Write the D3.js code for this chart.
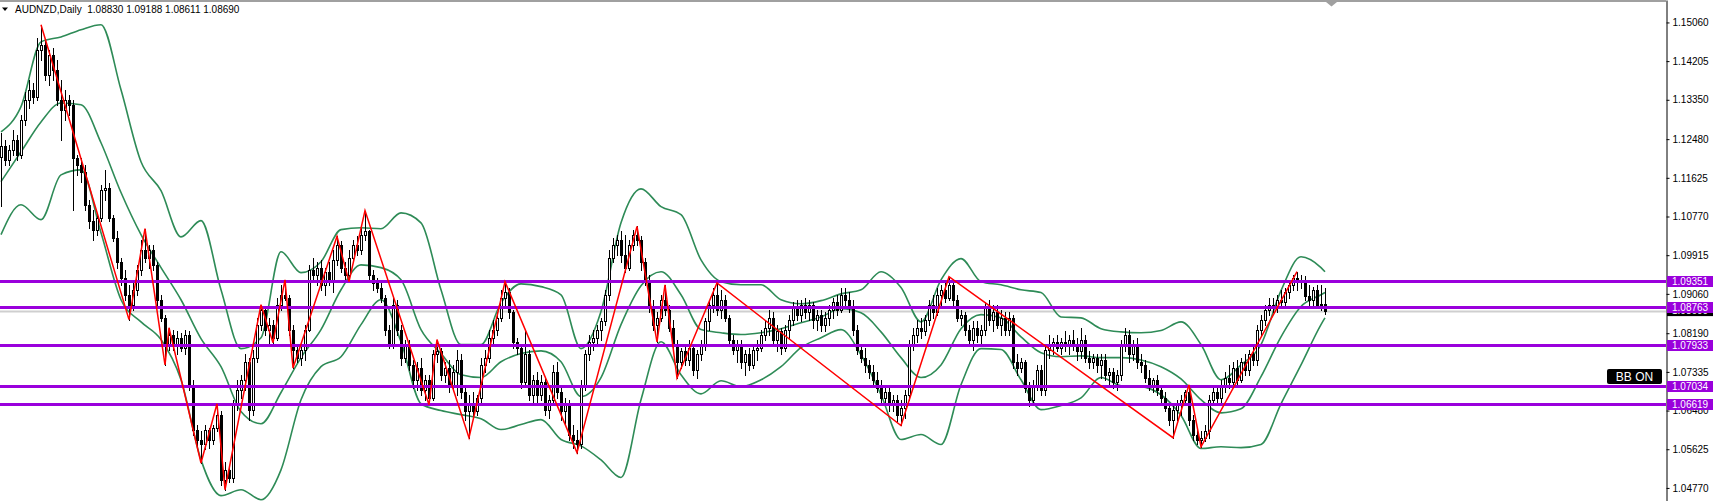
<!DOCTYPE html>
<html><head><meta charset="utf-8">
<script src="https://cdn.jsdelivr.net/npm/d3@7"></script>
<style>
html,body{margin:0;padding:0;background:#fff;overflow:hidden}
svg{display:block;font-family:"Liberation Sans",Arial,sans-serif}
</style>
</head><body>
<svg id="chart" width="1717" height="501"></svg>
<script>
// ---------------- data ----------------
const symbolTitle = "AUDNZD,Daily";
const lastOHLC = [1.08830, 1.09188, 1.08611, 1.08690];

const opens = [
1.1209,1.1232,1.1202,1.1224,1.1247,1.1213,1.1291,1.1335,1.1357,1.1342,
1.1445,1.1457,1.1390,1.1434,1.1401,1.1335,1.1313,1.1335,1.1324,1.1206,
1.1191,1.1176,1.1103,1.1066,1.1048,1.1074,1.1136,1.1140,1.1074,1.1030,
1.0977,1.0941,1.0904,1.0882,1.0915,1.0959,1.1004,1.0986,1.1004,1.0970,
1.0893,1.0853,1.0794,1.0816,1.0794,1.0809,1.0787,1.0816,1.0705,1.0606,
1.0584,1.0573,1.0606,1.0584,1.0610,1.0639,1.0495,1.0517,1.0499,1.0661,
1.0694,1.0716,1.0756,1.0650,1.0765,1.0838,1.0871,1.0827,1.0838,1.0809,
1.0882,1.0904,1.0897,1.0827,1.0783,1.0765,1.0783,1.0827,1.0959,1.0948,
1.0963,1.0926,1.0955,1.0937,1.0981,1.1015,1.0963,1.0948,1.0986,1.1015,
1.1004,1.1037,1.1044,1.0948,1.0930,1.0919,1.0897,1.0827,1.0794,1.0882,
1.0827,1.0765,1.0794,1.0749,1.0716,1.0742,1.0694,1.0716,1.0676,1.0772,
1.0779,1.0727,1.0742,1.0705,1.0734,1.0760,1.0690,1.0646,1.0661,1.0646,
1.0676,1.0749,1.0765,1.0809,1.0827,1.0853,1.0897,1.0911,1.0867,1.0800,
1.0787,1.0712,1.0772,1.0683,1.0716,1.0683,1.0712,1.0650,1.0672,1.0734,
1.0690,1.0646,1.0661,1.0595,1.0584,1.0573,1.0705,1.0772,1.0800,1.0809,
1.0827,1.0845,1.0904,1.0986,1.1015,1.1026,1.0993,1.0963,1.1015,1.1037,
1.1026,1.0977,1.0937,1.0875,1.0838,1.0853,1.0893,1.0871,1.0831,1.0794,
1.0756,1.0779,1.0760,1.0787,1.0738,1.0772,1.0794,1.0845,1.0882,1.0904,
1.0871,1.0893,1.0853,1.0805,1.0783,1.0794,1.0756,1.0772,1.0749,1.0783,
1.0787,1.0816,1.0831,1.0853,1.0805,1.0823,1.0787,1.0827,1.0849,1.0875,
1.0860,1.0882,1.0867,1.0882,1.0849,1.0860,1.0838,1.0853,1.0871,1.0889,
1.0871,1.0904,1.0893,1.0875,1.0827,1.0783,1.0765,1.0749,1.0734,1.0716,
1.0698,1.0676,1.0690,1.0661,1.0672,1.0639,1.0654,1.0683,1.0794,1.0816,
1.0831,1.0823,1.0849,1.0882,1.0867,1.0904,1.0915,1.0897,1.0926,1.0893,
1.0853,1.0860,1.0827,1.0805,1.0831,1.0816,1.0827,1.0875,1.0849,1.0867,
1.0838,1.0853,1.0827,1.0853,1.0756,1.0742,1.0756,1.0698,1.0672,1.0705,
1.0738,1.0694,1.0783,1.0794,1.0800,1.0787,1.0800,1.0794,1.0805,1.0794,
1.0779,1.0805,1.0765,1.0756,1.0765,1.0749,1.0760,1.0727,1.0734,1.0712,
1.0727,1.0794,1.0816,1.0772,1.0794,1.0756,1.0749,1.0720,1.0705,1.0716,
1.0694,1.0676,1.0654,1.0628,1.0650,1.0661,1.0672,1.0690,1.0628,1.0595,
1.0584,1.0588,1.0602,1.0672,1.0690,1.0676,1.0705,1.0720,1.0712,1.0742,
1.0716,1.0756,1.0738,1.0772,1.0760,1.0827,1.0849,1.0871,1.0882,1.0875,
1.0893,1.0889,1.0911,1.0926,1.0941,1.0933,1.0937,1.0902,1.0893,1.0915,
1.0882,1.08830];

const highs = [
1.1262,1.1247,1.1236,1.1269,1.1258,1.1302,1.1353,1.1379,1.1372,1.1472,
1.1501,1.1468,1.1445,1.1450,1.1423,1.1379,1.1357,1.1346,1.1335,1.1213,
1.1206,1.1191,1.1114,1.1092,1.1081,1.1147,1.1180,1.1151,1.1081,1.1044,
1.0986,1.0959,1.0926,1.0930,1.0970,1.1026,1.1050,1.1015,1.1015,1.0977,
1.0904,1.0860,1.0831,1.0827,1.0823,1.0820,1.0827,1.0823,1.0716,1.0617,
1.0602,1.0617,1.0610,1.0617,1.0663,1.0646,1.0535,1.0528,1.0672,1.0716,
1.0727,1.0772,1.0765,1.0783,1.0853,1.0882,1.0875,1.0853,1.0849,1.0897,
1.0926,1.0937,1.0904,1.0838,1.0794,1.0794,1.0838,1.0970,1.0986,1.0977,
1.0981,1.0963,1.0977,1.1004,1.1033,1.1022,1.0977,1.1004,1.1026,1.1033,
1.1052,1.1090,1.1048,1.0959,1.0941,1.0937,1.0904,1.0838,1.0897,1.0893,
1.0838,1.0805,1.0805,1.0760,1.0756,1.0765,1.0727,1.0727,1.0783,1.0805,
1.0787,1.0756,1.0760,1.0749,1.0783,1.0772,1.0705,1.0683,1.0690,1.0683,
1.0765,1.0783,1.0827,1.0849,1.0867,1.0915,1.0933,1.0919,1.0871,1.0809,
1.0794,1.0827,1.0783,1.0727,1.0734,1.0727,1.0720,1.0683,1.0749,1.0756,
1.0705,1.0676,1.0672,1.0617,1.0606,1.0716,1.0783,1.0816,1.0827,1.0838,
1.0853,1.0915,1.1004,1.1030,1.1037,1.1044,1.1037,1.1026,1.1048,1.1055,
1.1035,1.0986,1.0948,1.0893,1.0867,1.0904,1.0926,1.0882,1.0849,1.0805,
1.0787,1.0794,1.0805,1.0794,1.0783,1.0805,1.0853,1.0893,1.0919,1.0930,
1.0915,1.0904,1.0860,1.0816,1.0805,1.0805,1.0783,1.0787,1.0794,1.0805,
1.0827,1.0845,1.0871,1.0867,1.0838,1.0831,1.0838,1.0860,1.0889,1.0893,
1.0893,1.0897,1.0893,1.0889,1.0871,1.0871,1.0867,1.0882,1.0897,1.0904,
1.0919,1.0919,1.0911,1.0893,1.0838,1.0794,1.0787,1.0760,1.0749,1.0734,
1.0716,1.0705,1.0698,1.0683,1.0683,1.0672,1.0694,1.0805,1.0831,1.0849,
1.0853,1.0860,1.0893,1.0904,1.0919,1.0926,1.0937,1.0944,1.0933,1.0904,
1.0871,1.0867,1.0838,1.0845,1.0845,1.0838,1.0889,1.0893,1.0882,1.0882,
1.0871,1.0867,1.0867,1.0860,1.0772,1.0765,1.0760,1.0712,1.0716,1.0749,
1.0749,1.0794,1.0816,1.0809,1.0816,1.0809,1.0823,1.0816,1.0827,1.0809,
1.0831,1.0816,1.0779,1.0772,1.0772,1.0772,1.0772,1.0742,1.0742,1.0738,
1.0805,1.0831,1.0827,1.0805,1.0809,1.0772,1.0760,1.0738,1.0720,1.0727,
1.0705,1.0690,1.0661,1.0661,1.0672,1.0683,1.0694,1.0705,1.0639,1.0610,
1.0602,1.0617,1.0683,1.0705,1.0698,1.0716,1.0734,1.0749,1.0756,1.0760,
1.0765,1.0772,1.0783,1.0794,1.0838,1.0860,1.0882,1.0897,1.0897,1.0904,
1.0915,1.0919,1.0933,1.0948,1.0955,1.0948,1.0946,1.0926,1.0922,1.0926,
1.0926,1.09188];

const lows = [
1.1100,1.1191,1.1191,1.1213,1.1202,1.1206,1.1280,1.1317,1.1328,1.1335,
1.1423,1.1379,1.1368,1.1379,1.1324,1.1247,1.1291,1.1302,1.1092,1.1169,
1.1154,1.1092,1.1052,1.1026,1.1037,1.1066,1.1114,1.1066,1.1022,1.0963,
1.0926,1.0893,1.0849,1.0871,1.0904,1.0948,1.0977,1.0963,1.0959,1.0882,
1.0845,1.0749,1.0783,1.0783,1.0772,1.0779,1.0772,1.0694,1.0595,1.0562,
1.0532,1.0562,1.0566,1.0573,1.0602,1.0484,1.0473,1.0491,1.0491,1.0650,
1.0676,1.0694,1.0628,1.0639,1.0756,1.0827,1.0816,1.0798,1.0798,1.0805,
1.0871,1.0893,1.0816,1.0742,1.0756,1.0749,1.0760,1.0823,1.0933,1.0926,
1.0915,1.0904,1.0926,1.0911,1.0970,1.0955,1.0937,1.0933,1.0977,1.0993,
1.0995,1.1026,1.0937,1.0915,1.0911,1.0889,1.0816,1.0787,1.0787,1.0816,
1.0749,1.0756,1.0738,1.0698,1.0694,1.0683,1.0672,1.0661,1.0672,1.0756,
1.0716,1.0712,1.0690,1.0694,1.0683,1.0676,1.0628,1.0588,1.0632,1.0639,
1.0668,1.0734,1.0756,1.0794,1.0816,1.0845,1.0882,1.0853,1.0787,1.0772,
1.0698,1.0705,1.0672,1.0661,1.0668,1.0672,1.0639,1.0632,1.0661,1.0676,
1.0628,1.0617,1.0584,1.0566,1.0555,1.0566,1.0694,1.0760,1.0783,1.0794,
1.0805,1.0838,1.0893,1.0977,1.0993,1.0977,1.0955,1.0959,1.1004,1.1015,
1.0959,1.0926,1.0867,1.0827,1.0800,1.0845,1.0860,1.0823,1.0783,1.0720,
1.0742,1.0749,1.0749,1.0727,1.0720,1.0760,1.0783,1.0827,1.0867,1.0860,
1.0853,1.0845,1.0794,1.0772,1.0756,1.0742,1.0727,1.0738,1.0742,1.0760,
1.0779,1.0805,1.0816,1.0794,1.0779,1.0772,1.0779,1.0809,1.0838,1.0849,
1.0845,1.0853,1.0849,1.0831,1.0827,1.0823,1.0823,1.0838,1.0853,1.0860,
1.0867,1.0882,1.0867,1.0816,1.0772,1.0756,1.0734,1.0720,1.0705,1.0690,
1.0668,1.0661,1.0646,1.0646,1.0624,1.0615,1.0632,1.0672,1.0783,1.0800,
1.0809,1.0816,1.0838,1.0853,1.0860,1.0882,1.0889,1.0893,1.0882,1.0845,
1.0838,1.0816,1.0794,1.0783,1.0800,1.0794,1.0816,1.0838,1.0823,1.0831,
1.0816,1.0816,1.0816,1.0742,1.0727,1.0734,1.0690,1.0657,1.0661,1.0694,
1.0683,1.0683,1.0765,1.0772,1.0779,1.0772,1.0779,1.0772,1.0783,1.0760,
1.0765,1.0756,1.0742,1.0742,1.0734,1.0720,1.0716,1.0705,1.0698,1.0694,
1.0716,1.0779,1.0756,1.0760,1.0742,1.0734,1.0712,1.0694,1.0690,1.0683,
1.0668,1.0646,1.0617,1.0588,1.0628,1.0639,1.0661,1.0617,1.0584,1.0573,
1.0568,1.0580,1.0588,1.0661,1.0661,1.0668,1.0690,1.0698,1.0705,1.0705,
1.0712,1.0727,1.0727,1.0749,1.0749,1.0816,1.0838,1.0860,1.0867,1.0867,
1.0875,1.0882,1.0897,1.0915,1.0915,1.0919,1.0893,1.0882,1.0882,1.0875,
1.0871,1.08611];

const closes = [
1.1232,1.1202,1.1224,1.1247,1.1213,1.1291,1.1335,1.1357,1.1342,1.1445,
1.1457,1.1390,1.1434,1.1401,1.1335,1.1313,1.1335,1.1324,1.1206,1.1191,
1.1176,1.1103,1.1066,1.1048,1.1074,1.1136,1.1140,1.1074,1.1030,1.0977,
1.0941,1.0904,1.0882,1.0915,1.0959,1.1004,1.0986,1.1004,1.0970,1.0893,
1.0853,1.0794,1.0816,1.0794,1.0809,1.0787,1.0816,1.0705,1.0606,1.0584,
1.0573,1.0606,1.0584,1.0610,1.0639,1.0495,1.0517,1.0499,1.0661,1.0694,
1.0716,1.0756,1.0650,1.0765,1.0838,1.0871,1.0827,1.0838,1.0809,1.0882,
1.0904,1.0897,1.0827,1.0783,1.0765,1.0783,1.0827,1.0959,1.0948,1.0963,
1.0926,1.0955,1.0937,1.0981,1.1015,1.0963,1.0948,1.0986,1.1015,1.1004,
1.1037,1.1044,1.0948,1.0930,1.0919,1.0897,1.0827,1.0794,1.0882,1.0827,
1.0765,1.0794,1.0749,1.0716,1.0742,1.0694,1.0716,1.0676,1.0772,1.0779,
1.0727,1.0742,1.0705,1.0734,1.0760,1.0690,1.0646,1.0661,1.0646,1.0676,
1.0749,1.0765,1.0809,1.0827,1.0853,1.0897,1.0911,1.0867,1.0800,1.0787,
1.0712,1.0772,1.0683,1.0716,1.0683,1.0712,1.0650,1.0672,1.0734,1.0690,
1.0646,1.0661,1.0595,1.0584,1.0573,1.0705,1.0772,1.0800,1.0809,1.0827,
1.0845,1.0904,1.0986,1.1015,1.1026,1.0993,1.0963,1.1015,1.1037,1.1026,
1.0977,1.0937,1.0875,1.0838,1.0853,1.0893,1.0871,1.0831,1.0794,1.0756,
1.0779,1.0760,1.0787,1.0738,1.0772,1.0794,1.0845,1.0882,1.0904,1.0871,
1.0893,1.0853,1.0805,1.0783,1.0794,1.0756,1.0772,1.0749,1.0783,1.0787,
1.0816,1.0831,1.0853,1.0805,1.0823,1.0787,1.0827,1.0849,1.0875,1.0860,
1.0882,1.0867,1.0882,1.0849,1.0860,1.0838,1.0853,1.0871,1.0889,1.0871,
1.0904,1.0893,1.0875,1.0827,1.0783,1.0765,1.0749,1.0734,1.0716,1.0698,
1.0676,1.0690,1.0661,1.0672,1.0639,1.0654,1.0683,1.0794,1.0816,1.0831,
1.0823,1.0849,1.0882,1.0867,1.0904,1.0915,1.0897,1.0926,1.0893,1.0853,
1.0860,1.0827,1.0805,1.0831,1.0816,1.0827,1.0875,1.0849,1.0867,1.0838,
1.0853,1.0827,1.0853,1.0756,1.0742,1.0756,1.0698,1.0672,1.0705,1.0738,
1.0694,1.0783,1.0794,1.0800,1.0787,1.0800,1.0794,1.0805,1.0794,1.0779,
1.0805,1.0765,1.0756,1.0765,1.0749,1.0760,1.0727,1.0734,1.0712,1.0727,
1.0794,1.0816,1.0772,1.0794,1.0756,1.0749,1.0720,1.0705,1.0716,1.0694,
1.0676,1.0654,1.0628,1.0650,1.0661,1.0672,1.0690,1.0628,1.0595,1.0584,
1.0588,1.0602,1.0672,1.0690,1.0676,1.0705,1.0720,1.0712,1.0742,1.0716,
1.0756,1.0738,1.0772,1.0760,1.0827,1.0849,1.0871,1.0882,1.0875,1.0893,
1.0889,1.0911,1.0926,1.0941,1.0933,1.0937,1.0902,1.0893,1.0915,1.0882,
1.0883,1.08690];

// Bollinger bands, one value every 5th bar (and the last bar)
const bbSampleStep = 5;
const bbUpper = [1.1264,1.1320,1.1463,1.1474,1.1490,1.1501,1.1357,1.1198,1.1134,1.1032,
1.1068,1.0915,1.0785,1.0809,1.0999,1.0953,1.0977,1.1048,1.1052,1.1050,
1.1085,1.1063,1.0915,1.0794,1.0794,1.0886,1.0928,1.0922,1.0904,1.0785,
1.0867,1.1063,1.1138,1.1099,1.1081,1.0981,1.0933,1.0926,1.0926,1.0893,
1.0884,1.0891,1.0906,1.0915,1.0955,1.0920,1.0844,1.0937,1.0984,1.0933,
1.0926,1.0915,1.0909,1.0855,1.0853,1.0829,1.0822,1.0820,1.0825,1.0844,
1.0794,1.0716,1.0749,1.0794,1.0913,1.0988,1.0964,1.0955];
const bbMiddle = [1.1154,1.1220,1.1286,1.1328,1.1324,1.1240,1.1130,1.1037,1.0964,1.0893,
1.0807,1.0745,1.0646,1.0619,1.0688,1.0765,1.0827,1.0915,1.0970,1.0964,
1.0937,1.0827,1.0774,1.0727,1.0721,1.0756,1.0774,1.0780,1.0756,1.0679,
1.0721,1.0838,1.0924,1.0955,1.0904,1.0827,1.0820,1.0816,1.0820,1.0829,
1.0842,1.0855,1.0873,1.0864,1.0822,1.0765,1.0721,1.0749,1.0829,1.0860,
1.0853,1.0811,1.0776,1.0767,1.0769,1.0765,1.0765,1.0760,1.0745,1.0718,
1.0672,1.0643,1.0652,1.0723,1.0811,1.0878,1.0904,1.0909];
const bbLower = [1.1037,1.1103,1.1070,1.1169,1.1180,1.1041,1.0893,1.0844,1.0805,1.0716,
1.0539,1.0460,1.0473,1.0451,1.0517,1.0672,1.0745,1.0767,1.0838,1.0893,
1.0800,1.0663,1.0648,1.0639,1.0630,1.0606,1.0617,1.0628,1.0584,1.0570,
1.0539,1.0500,1.0672,1.0800,1.0727,1.0685,1.0714,1.0701,1.0716,1.0745,
1.0787,1.0809,1.0827,1.0771,1.0683,1.0584,1.0595,1.0573,1.0705,1.0785,
1.0783,1.0716,1.0650,1.0659,1.0676,1.0721,1.0703,1.0701,1.0683,1.0637,
1.0564,1.0568,1.0566,1.0573,1.0663,1.0749,1.0838,1.0853];

// ZigZag pivots (bar number, price)
const zigzagBars = [10,32,36,41,42,50,54,56,65,68,71,73,84,87,91,107,109,117,126,144,159,164,166,169,179,225,237,293,297,300,324];
const zigzagPrices = [1.1501,1.0849,1.1050,1.0749,1.0831,1.0532,1.0663,1.0473,1.0882,1.0798,1.0937,1.0742,1.1033,1.0933,1.1090,1.0661,1.0805,1.0588,1.0933,1.0555,1.1055,1.0800,1.0926,1.0720,1.0930,1.0615,1.0944,1.0588,1.0705,1.0568,1.0955];

// Horizontal levels, bid price, axis ticks
const levelPrices = [1.09351, 1.08763, 1.07933, 1.07034, 1.06619];
const bidPrice = 1.08690;
const axisTicks = [1.15060,1.14205,1.13350,1.12480,1.11625,1.10770,1.09915,1.09060,1.08190,1.07335,1.06480,1.05625,1.04770];
const badgeText = "BB ON";

// ---------------- drawing ----------------
const W = 1717, H = 501, plotRight = 1666;
const FONT = '"Liberation Sans", Arial, sans-serif';
const PURPLE = "#9a00dc", GREEN = "#2e8b57";
const svg = d3.select("#chart");
const n = closes.length;
const x = d3.scaleLinear().domain([0, n - 1]).range([1, 1325]);
const y = d3.scaleLinear().domain([1.04481, 1.15556]).range([H, 0]);
const fmt = d3.format(".5f");

svg.append("defs").append("clipPath").attr("id", "plotClip")
  .append("rect").attr("x", 0).attr("y", 0).attr("width", plotRight).attr("height", H);

const plot = svg.append("g").attr("clip-path", "url(#plotClip)");

// bid line
plot.append("line")
  .attr("x1", 0).attr("x2", plotRight)
  .attr("y1", Math.round(y(bidPrice)) + 0.5).attr("y2", Math.round(y(bidPrice)) + 0.5)
  .attr("stroke", "#cfcfcf").attr("stroke-width", 2);

// Bollinger bands
const bbIdx = bbUpper.map((_, k) => Math.min(k * bbSampleStep, n - 1));
const bandLine = d3.line().x(d => x(d[0])).y(d => y(d[1])).curve(d3.curveMonotoneX);
[bbUpper, bbMiddle, bbLower].forEach(arr => {
  plot.append("path")
    .attr("d", bandLine(arr.map((v, k) => [bbIdx[k], v])))
    .attr("fill", "none").attr("stroke", GREEN).attr("stroke-width", 1.6);
});

// candles
const bars = d3.range(n).map(i => ({ i, o: opens[i], h: highs[i], l: lows[i], c: closes[i] }));
const cg = plot.append("g").attr("shape-rendering", "crispEdges");
cg.selectAll("line.wick").data(bars).join("line").attr("class", "wick")
  .attr("x1", d => Math.round(x(d.i)) + 0.5).attr("x2", d => Math.round(x(d.i)) + 0.5)
  .attr("y1", d => Math.round(y(d.h))).attr("y2", d => Math.round(y(d.l)) + 1)
  .attr("stroke", "#000").attr("stroke-width", 1);
cg.selectAll("rect.body").data(bars).join("rect").attr("class", "body")
  .each(function (d) {
    const xc = Math.round(x(d.i));
    const top = Math.round(y(Math.max(d.o, d.c)));
    const bot = Math.round(y(Math.min(d.o, d.c)));
    const sel = d3.select(this);
    if (d.c >= d.o) {
      sel.attr("x", xc - 0.5).attr("width", 2)
        .attr("y", top + 0.5).attr("height", Math.max(1, bot - top))
        .attr("fill", "#fff").attr("stroke", "#000").attr("stroke-width", 1);
    } else {
      sel.attr("x", xc - 1).attr("width", 3)
        .attr("y", top).attr("height", Math.max(1, bot - top + 1))
        .attr("fill", "#000");
    }
  });

// horizontal levels
plot.selectAll("line.level").data(levelPrices).join("line").attr("class", "level")
  .attr("x1", 0).attr("x2", plotRight)
  .attr("y1", d => Math.round(y(d)) + 0.5).attr("y2", d => Math.round(y(d)) + 0.5)
  .attr("stroke", PURPLE).attr("stroke-width", 3);

// zigzag
const zzLine = d3.line().x(d => x(d[0])).y(d => y(d[1]));
plot.append("path")
  .attr("d", zzLine(zigzagBars.map((b, k) => [b, zigzagPrices[k]])))
  .attr("fill", "none").attr("stroke", "#ff0000").attr("stroke-width", 1.5);

// top frame line and shift marker
svg.append("rect").attr("x", 0).attr("y", 0).attr("width", plotRight).attr("height", 2).attr("fill", "#a0a0a0");
svg.append("path").attr("d", "M1326,2 L1337,2 L1331.5,6.5 Z").attr("fill", "#a0a0a0");

// right price axis
const axis = d3.axisRight(y).tickValues(axisTicks).tickFormat(fmt)
  .tickSize(3).tickSizeOuter(0).tickPadding(3);
const ag = svg.append("g").attr("transform", `translate(${plotRight + 0.5},0)`).call(axis);
ag.attr("font-family", FONT).attr("font-size", 10);
ag.select(".domain").attr("stroke", "#000");
ag.selectAll(".tick line").attr("stroke", "#000");
ag.selectAll(".tick text").attr("fill", "#000");

// bid label (black) then level labels (purple)
const labW = 46, labH = 11;
const bidG = svg.append("g").attr("transform", `translate(${plotRight + 1},${y(bidPrice)})`);
bidG.append("rect").attr("x", 0).attr("y", -labH / 2).attr("width", labW).attr("height", labH).attr("fill", "#000");
bidG.append("text").attr("x", 5).attr("y", 0).attr("dy", "0.35em")
  .attr("font-family", FONT).attr("font-size", 10).attr("fill", "#fff").text(fmt(bidPrice));

const lg = svg.selectAll("g.lvl").data(levelPrices).join("g").attr("class", "lvl")
  .attr("transform", d => `translate(${plotRight + 1},${Math.round(y(d)) + 0.5})`);
lg.append("rect").attr("x", 0).attr("y", -labH / 2).attr("width", labW).attr("height", labH).attr("fill", PURPLE);
lg.append("text").attr("x", 5).attr("y", 0).attr("dy", "0.35em")
  .attr("font-family", FONT).attr("font-size", 10).attr("fill", "#fff").text(d => fmt(d));

// BB ON badge
const bg = svg.append("g");
bg.append("rect").attr("x", 1607).attr("y", 369).attr("width", 55).attr("height", 15).attr("rx", 2).attr("fill", "#000");
bg.append("text").attr("x", 1634.5).attr("y", 376.5).attr("dy", "0.36em").attr("text-anchor", "middle")
  .attr("font-family", FONT).attr("font-size", 12).attr("fill", "#fff").text(badgeText);

// title
svg.append("path").attr("d", "M2,7.5 L8,7.5 L5,11 Z").attr("fill", "#000");
svg.append("text").attr("x", 15).attr("y", 13)
  .attr("font-family", FONT).attr("font-size", 10).attr("fill", "#000")
  .style("white-space", "pre")
  .text(symbolTitle + "  " + lastOHLC.map(fmt).join(" "));
</script>
</body></html>
